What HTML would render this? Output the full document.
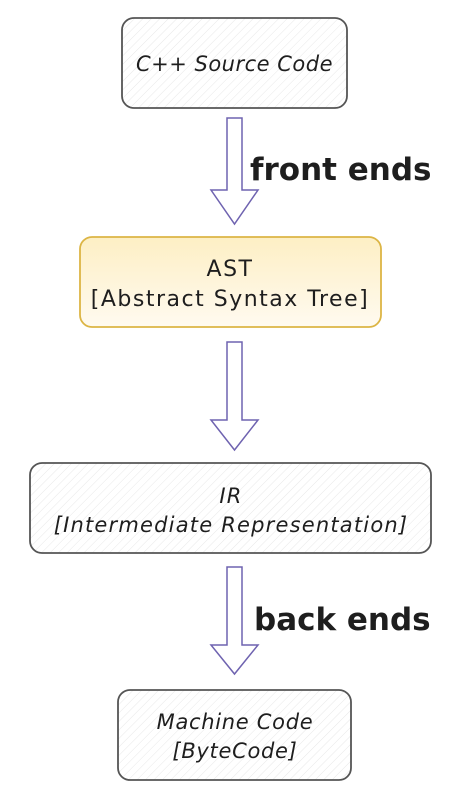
<!DOCTYPE html>
<html><head><meta charset="utf-8"><style>
html,body{margin:0;padding:0;background:#fff;width:459px;height:797px;overflow:hidden}
svg{display:block}
text{font-family:"Comic Sans MS","DejaVu Sans","Liberation Sans",sans-serif;fill:#1e1e1e}
</style></head><body>
<svg width="459" height="797" viewBox="0 0 459 797" xmlns="http://www.w3.org/2000/svg">
<defs>
<pattern id="h" width="6" height="6" patternUnits="userSpaceOnUse" patternTransform="rotate(45)">
<rect width="6" height="6" fill="#fff"/><line x1="0" y1="0" x2="0" y2="6" stroke="#e8e8e8" stroke-width="1"/>
</pattern>
<linearGradient id="y" x1="0" y1="0" x2="0" y2="1"><stop offset="0" stop-color="#fdefc4"/><stop offset="1" stop-color="#fffaf0"/></linearGradient>
</defs>
<rect x="122" y="18" width="225" height="90" rx="12" fill="url(#h)" stroke="#555" stroke-width="1.8"/>
<text x="234.5" y="71" text-anchor="middle" font-size="21" font-style="italic" letter-spacing="0.5">C++ Source Code</text>

<path d="M227 118 H242 V190 H258 L234.5 224 L211 190 H227 Z" fill="#fff" stroke="#6f63b0" stroke-width="1.5"/>
<text x="250" y="180" font-size="31" font-weight="bold">front ends</text>

<rect x="80" y="237" width="301" height="90" rx="12" fill="url(#y)" stroke="#dcb545" stroke-width="1.8"/>
<text x="230" y="276" text-anchor="middle" font-size="22" letter-spacing="1.5">AST</text>
<text x="230" y="306" text-anchor="middle" font-size="22" letter-spacing="1.5">[Abstract Syntax Tree]</text>

<path d="M227 342 H242 V420 H258 L234.5 450 L211 420 H227 Z" fill="#fff" stroke="#6f63b0" stroke-width="1.5"/>

<rect x="30" y="463" width="401" height="90" rx="12" fill="url(#h)" stroke="#555" stroke-width="1.8"/>
<text x="231" y="503" text-anchor="middle" font-size="21" font-style="italic" letter-spacing="1.2">IR</text>
<text x="231" y="532" text-anchor="middle" font-size="21" font-style="italic" letter-spacing="1.2">[Intermediate Representation]</text>

<path d="M227 567 H242 V645 H258 L234.5 674 L211 645 H227 Z" fill="#fff" stroke="#6f63b0" stroke-width="1.5"/>
<text x="254" y="630" font-size="31" font-weight="bold">back ends</text>

<rect x="118" y="690" width="233" height="90" rx="12" fill="url(#h)" stroke="#555" stroke-width="1.8"/>
<text x="235" y="729" text-anchor="middle" font-size="21" font-style="italic" letter-spacing="0.7">Machine Code</text>
<text x="235" y="758" text-anchor="middle" font-size="21" font-style="italic" letter-spacing="0.7">[ByteCode]</text>
</svg>
</body></html>
